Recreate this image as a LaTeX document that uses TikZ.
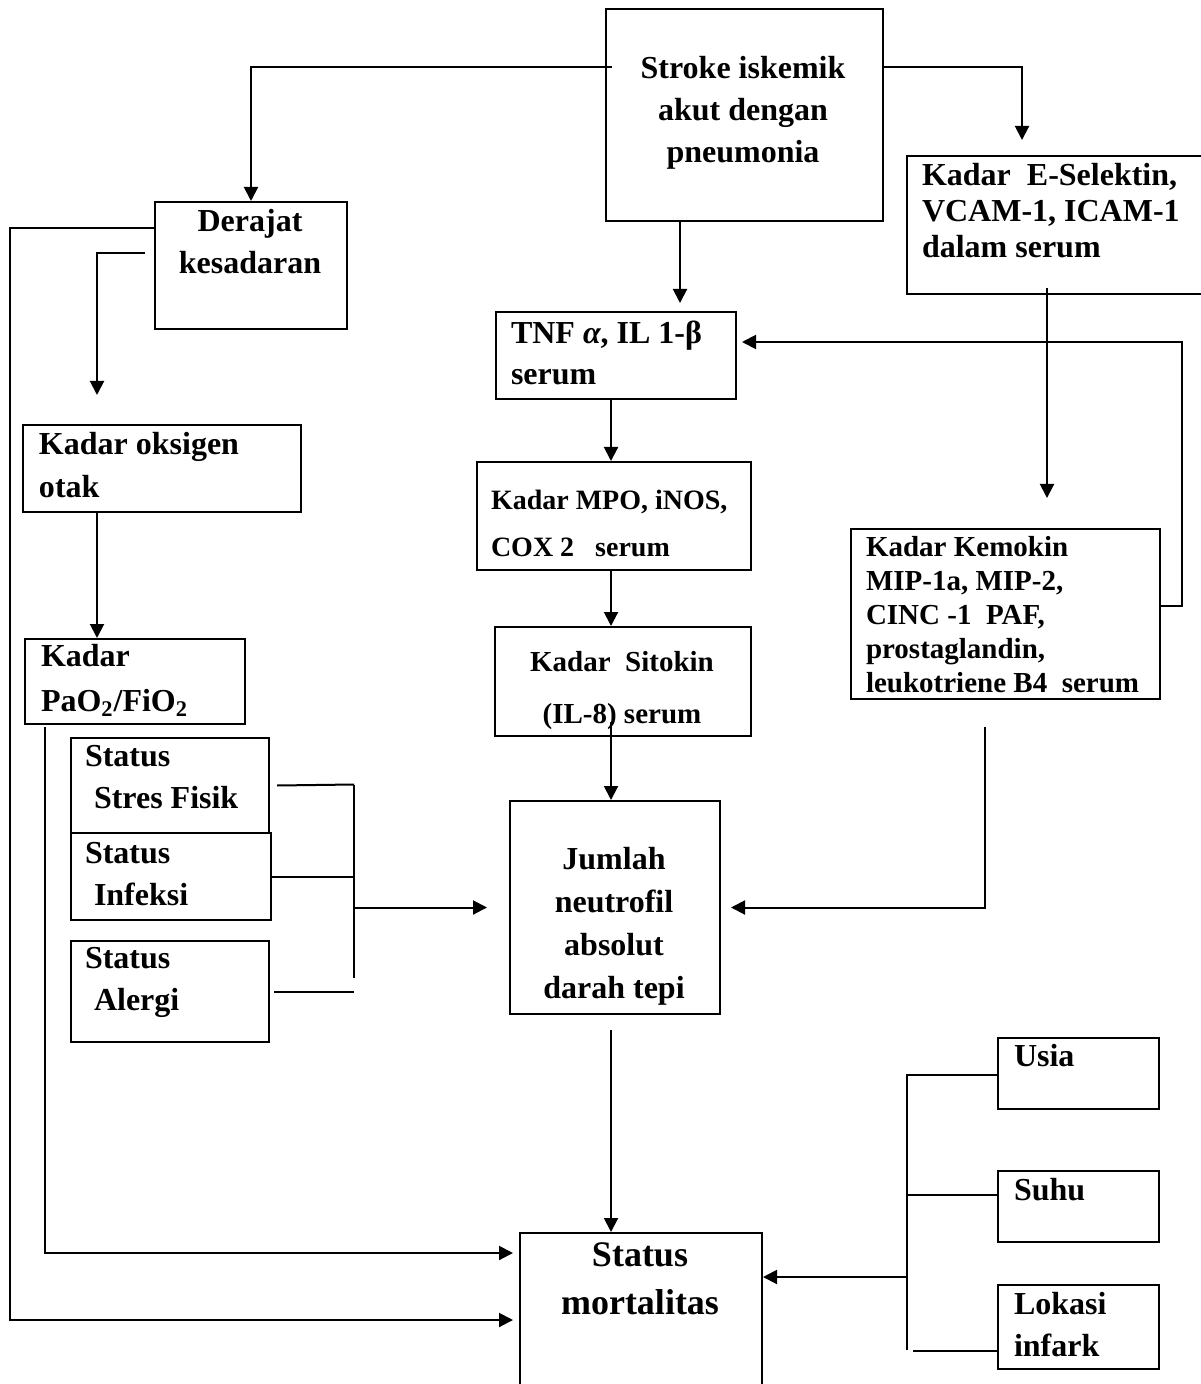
\documentclass[tikz,border=0pt]{standalone}
\usepackage{fontspec}
\setmainfont{Liberation Serif}
\usetikzlibrary{arrows.meta}

\begin{document}
\begin{tikzpicture}[x=0.5pt,y=-0.5pt,line width=1pt,
                    kotak/.style={draw,line width=1pt,anchor=north west,inner sep=0pt},
                    teks/.style={inner sep=0pt,align=left,font=\fontsize{16}{21}\selectfont\bfseries},
                    kecil/.style={font=\fontsize{14.5}{17}\selectfont\bfseries},
                    panah/.style={-{Triangle[length=7pt,width=7pt]}}]
                    \useasboundingbox (0,0) rectangle (1200,1384);
                    \node[kotak,minimum width=138.5pt,minimum height=106pt] (stroke) at (605,8) {};
                    \node[kotak,minimum width=96pt,minimum height=63.5pt] (derajat) at (154,201) {};
                    \node[kotak,minimum width=148.5pt,minimum height=69pt] (selektin) at (906,155) {};
                    \node[kotak,minimum width=120pt,minimum height=43.5pt] (tnf) at (495,311) {};
                    \node[kotak,minimum width=137pt,minimum height=54pt] (mpo) at (476,461) {};
                    \node[kotak,minimum width=128pt,minimum height=54.5pt] (sitokin) at (494,626) {};
                    \node[kotak,minimum width=105pt,minimum height=106.5pt] (jumlah) at (509,800) {};
                    \node[kotak,minimum width=154.5pt,minimum height=85pt] (kemokin) at (850,528) {};
                    \node[kotak,minimum width=121pt,minimum height=85pt] (mortal) at (519,1232) {};
                    \node[kotak,minimum width=139pt,minimum height=43.5pt] (oksigen) at (22,424) {};
                    \node[kotak,minimum width=110pt,minimum height=42.5pt] (pao2) at (24,638) {};
                    \node[kotak,minimum width=99pt,minimum height=47.5pt] (stres) at (70,737) {};
                    \node[kotak,minimum width=100pt,minimum height=43.5pt] (infeksi) at (70,832) {};
                    \node[kotak,minimum width=99pt,minimum height=50.5pt] (alergi) at (70,940) {};
                    \node[kotak,minimum width=80.5pt,minimum height=35.5pt] (usia) at (997,1037) {};
                    \node[kotak,minimum width=80.5pt,minimum height=35.5pt] (suhu) at (997,1170) {};
                    \node[kotak,minimum width=80.5pt,minimum height=42pt] (lokasi) at (997,1284) {};

                    \node[teks,align=center] (stroke-t) at (743,113) {Stroke iskemik\\akut dengan\\pneumonia};
                    \node[teks,align=center] (derajat-t) at (250,242) {Derajat\\kesadaran};
                    \node[teks,anchor=west,font=\fontsize{16}{18}\selectfont\bfseries] (selektin-t) at (921,211) {Kadar\ \ E-Selektin,\\VCAM-1, ICAM-1\\dalam serum};
                    \node[teks,anchor=west,font=\fontsize{16}{20.5}\selectfont\bfseries] (tnf-t) at (510,353) {TNF {\itshape α}, IL 1-β\\serum};
                    \node[teks,kecil,anchor=west,font=\fontsize{14}{23.5}\selectfont\bfseries] (mpo-t) at (490,523) {Kadar MPO, iNOS,\\COX 2\ \ \ serum};
                    \node[teks,align=center,font=\fontsize{14.5}{26}\selectfont\bfseries] (sitokin-t) at (622,691) {Kadar\ \ Sitokin\\(IL-8) serum};
                    \node[teks,align=center,font=\fontsize{16}{21.5}\selectfont\bfseries] (jumlah-t) at (614,926) {Jumlah\\neutrofil\\absolut\\darah tepi};
                    \node[teks,kecil,anchor=west] (kemokin-t) at (865,615) {Kadar Kemokin\\MIP-1a, MIP-2,\\CINC -1\ \ PAF,\\prostaglandin,\\leukotriene B4\ \ serum};
                    \node[teks,align=center,font=\fontsize{18}{24}\selectfont\bfseries] (mortal-t) at (640,1279) {Status\\mortalitas};
                    \node[teks,anchor=west,font=\fontsize{16}{21.5}\selectfont\bfseries] (oksigen-t) at (38,465) {Kadar oksigen\\otak};
                    \node[teks,anchor=west,font=\fontsize{16}{22.5}\selectfont\bfseries] (pao2-t) at (40,680) {Kadar\\PaO\textsubscript{2}/FiO\textsubscript{2}};
                    \node[teks,anchor=west] (stres-t) at (84,777) {Status\\\hspace*{4.5pt}Stres Fisik};
                    \node[teks,anchor=west] (infeksi-t) at (84,874) {Status\\\hspace*{4.5pt}Infeksi};
                    \node[teks,anchor=west] (alergi-t) at (84,982) {Status\\\hspace*{4.5pt}Alergi};
                    \node[teks,anchor=west] (usia-t) at (1013,1056) {Usia};
                    \node[teks,anchor=west] (suhu-t) at (1013,1190) {Suhu};
                    \node[teks,anchor=west,font=\fontsize{16}{21}\selectfont\bfseries] (lokasi-t) at (1013,1325) {Lokasi\\infark};

                    \coordinate (sL) at (612,67);
                    \coordinate (selIn) at (1022,140);
                    \coordinate (tnfIn) at (680,311);
                    \coordinate (mpoIn) at (611,461);
                    \coordinate (sitIn) at (611,626);
                    \coordinate (sitOut) at (611,722);
                    \coordinate (jmlOut) at (611,1030);
                    \coordinate (selOut) at (1047,288);
                    \coordinate (fbR) at (1182,342);
                    \coordinate (kemOut) at (985,727);
                    \coordinate (derOut) at (145,253);
                    \coordinate (oksIn) at (97,395);
                    \coordinate (paoOut) at (45,727);
                    \coordinate (kiri) at (10,700);
                    \coordinate (brT) at (354,784.5);
                    \coordinate (brB) at (354,978);
                    \coordinate (rbT) at (907,1075);
                    \coordinate (rbB) at (907,1350);
                    \coordinate (rbM) at (907,1277);
                    \coordinate (suhuL) at ([yshift=6pt]suhu.west);
                    \coordinate (lokL) at ([yshift=-12pt]lokasi.west);

                    \draw[panah] (sL) -| (derajat.north);
                    \draw[panah] (stroke.east |- sL) -| (selIn);
                    \draw[panah,shorten >=4pt] (stroke.south -| tnfIn) -- (tnfIn);
                    \draw[panah] (tnf.south -| mpoIn) -- (mpoIn);
                    \draw[panah] (mpo.south -| sitIn) -- (sitIn);
                    \draw[panah] (sitOut) -- (jumlah.north -| sitOut);
                    \draw[panah] (jmlOut) -- (mortal.north -| jmlOut);
                    \draw[panah,shorten >=15pt] (selOut) -- (kemokin.north -| selOut);
                    \draw[panah,shorten >=2.5pt] ([yshift=4pt]kemokin.east) -| (fbR) -- (tnf.east |- fbR);
                    \draw[panah,shorten >=5pt] (kemOut) |- (jumlah.east);
                    \draw[panah] (derOut) -| (oksIn);
                    \draw[panah] (oksigen.south -| oksIn) -- (pao2.north -| oksIn);
                    \draw[panah,shorten >=3pt] (paoOut) |- ([yshift=-10.5pt]mortal.north west);
                    \draw[panah,shorten >=3pt] ([yshift=18.75pt]derajat.west) -| (kiri) |- ([yshift=-44pt]mortal.north west);

                    \draw ([xshift=3.5pt]stres.east) -- (brT);
                    \draw (infeksi.east) -- (infeksi.east -| brT);
                    \draw ([xshift=2pt]alergi.east) -- (alergi.east -| brT);
                    \draw (brT) -- (brB);
                    \draw[panah,shorten >=11pt] (brT |- jumlah.west) -- (jumlah.west);

                    \draw (rbB) -- (rbT) -- (usia.west |- rbT);
                    \draw (suhuL) -- (suhuL -| rbT);
                    \draw (lokL) -- ++(-42pt,0);
                    \draw[panah] (rbM) -- (mortal.east |- rbM);
\end{tikzpicture}
\end{document}
